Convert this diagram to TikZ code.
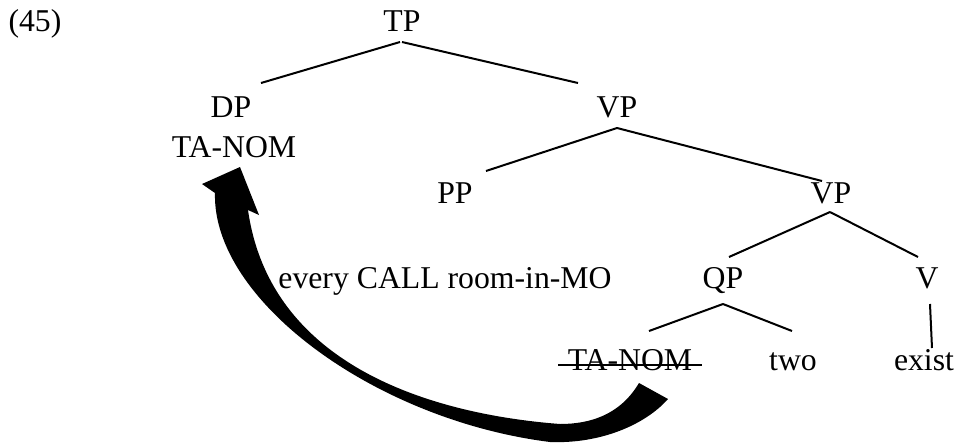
\documentclass[tikz,border=0pt]{standalone}
\usepackage{fontspec}
\setmainfont{Liberation Serif}
\usetikzlibrary{calc}
\tikzset{
  lbl/.style={anchor=base, inner sep=0pt, outer sep=0pt, font=\fontsize{23.8}{28}\selectfont},
  branch/.style={line width=1.5pt},
}
\begin{document}
\begin{tikzpicture}[x=0.75pt, y=-0.75pt]
\useasboundingbox (0,0) rectangle (958,444);

% example number
\node[lbl] (num) at (35,31) {(45)};

% tree labels (positioned on their baselines)
\node[lbl] (tp)   at (402,31)  {TP};
\node[lbl] (dp)   at (231,117) {DP};
\node[lbl] (tanom) at (234,157) {TA-NOM};
\node[lbl] (vpa)  at (617,117) {VP};
\node[lbl] (pp)   at (455,203) {PP};
\node[lbl] (vpb)  at (831,203) {VP};
\node[lbl] (qp)   at (723,288) {QP};
\node[lbl] (v)    at (927,288) {V};
\node[lbl] (pplabel) at (445,288) {every CALL room-in-MO};
\node[lbl] (trace) at (630,370) {TA-NOM};
\node[lbl] (two)  at (793,370) {two};
\node[lbl] (exist) at (924,370) {exist};

% branches
\draw[branch] ($(tp.base)+(-2,11)$) -- ($(dp.base)+(30,-34)$);
\draw[branch] ($(tp.base)+(0,11)$) -- ($(vpa.base)+(-39,-34)$);
\draw[branch] ($(vpa.base)+(0,11)$) -- ($(pp.base)+(31,-32)$);
\draw[branch] ($(vpa.base)+(0,11)$) -- ($(vpb.base)+(-9,-22)$);
\draw[branch] ($(vpb.base)+(-1,9)$) -- ($(qp.base)+(6,-31)$);
\draw[branch] ($(vpb.base)+(-1,9)$) -- ($(v.base)+(-9,-31)$);
\draw[branch] ($(qp.base)+(0,16)$) -- ($(trace.base)+(19,-39)$);
\draw[branch] ($(qp.base)+(0,16)$) -- ($(two.base)+(-1,-39)$);
\draw[branch] ($(v.base)+(3,16)$) -- ($(exist.base)+(8,-22)$);

% strike-through of the moved copy
\draw[line width=1.5pt] ($(trace.base)+(-72,-5)$) -- ($(trace.base)+(72,-5)$);

% movement arrow: tapered curved shape from the copy up to TA-NOM
\fill[black]
  (215,193) -- (202,184) -- (240,167) -- (259,215) -- (248,210)
  .. controls (270,365) and (430,414) .. (560,424)
  .. controls (590,424) and (620,415) .. (639,383)
  -- (668,399)
  .. controls (645,425) and (600,444) .. (550,442)
  .. controls (375,420) and (212,300) .. (215,193)
  -- cycle;
\end{tikzpicture}
\end{document}
